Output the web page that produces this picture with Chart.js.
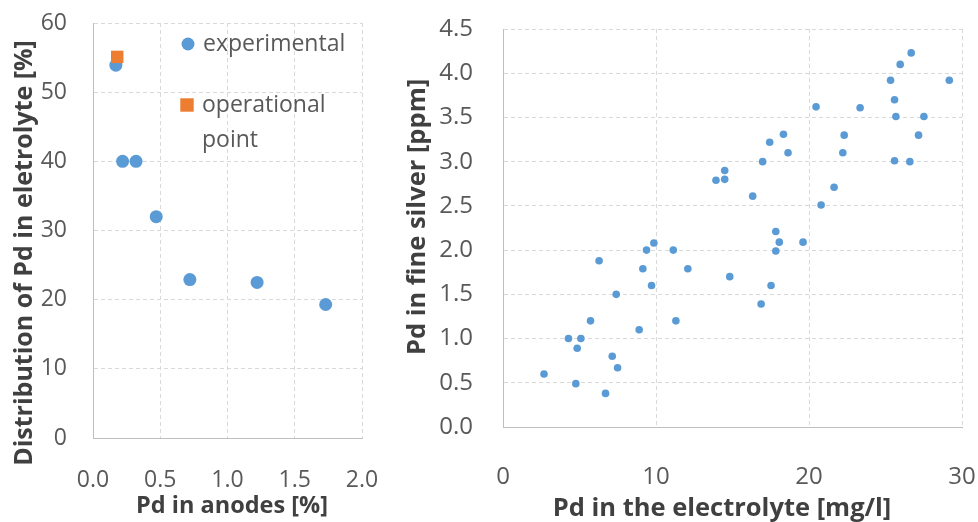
<!DOCTYPE html>
<html>
<head>
<meta charset="utf-8">
<script src="https://cdn.jsdelivr.net/npm/chart.js@4.4.0/dist/chart.umd.min.js"></script>
<style>
    body { margin: 0; background: #fff; }
    .panel { position: absolute; top: 0; height: 522px; }
    #left-panel { left: 0; width: 390px; }
    #right-panel { left: 390px; width: 588px; }
</style>
</head>
<body>
<div class="panel" id="left-panel"><canvas id="anode-chart"></canvas></div>
<div class="panel" id="right-panel"><canvas id="silver-chart"></canvas></div>
<script>
// Pd in anodes vs. share of Pd that ends up in the electrolyte
const anodePd = [0.17, 0.22, 0.32, 0.47, 0.72, 1.22, 1.73];
const electrolyteShare = [53.9, 40.0, 40.0, 32.0, 22.9, 22.5, 19.3];
const operationalAnodePd = [0.18];
const operationalShare = [55.1];

// Pd in the electrolyte vs. Pd in fine silver
const electrolytePd = [
    2.68, 4.28, 5.09, 4.85, 4.76, 5.72, 6.28, 7.40, 7.14, 7.49,
    6.70, 8.90, 9.14, 9.38, 9.86, 9.71, 11.13, 11.30, 12.08, 14.82,
    17.52, 16.87, 17.83, 18.06, 19.61, 17.83, 20.79, 21.64, 16.32, 13.92,
    14.49, 14.49, 16.97, 18.63, 22.21, 25.59, 26.59, 17.43, 18.33, 22.30,
    27.16, 25.68, 27.51, 20.46, 23.34, 25.59, 25.33, 29.17, 25.96, 26.68
];
const fineSilverPd = [
    0.60, 1.00, 1.00, 0.89, 0.49, 1.20, 1.88, 1.50, 0.80, 0.67,
    0.38, 1.10, 1.79, 2.00, 2.08, 1.60, 2.00, 1.20, 1.79, 1.70,
    1.60, 1.39, 2.21, 2.09, 2.09, 1.99, 2.51, 2.71, 2.61, 2.79,
    2.80, 2.90, 3.00, 3.10, 3.10, 3.01, 3.00, 3.22, 3.31, 3.30,
    3.30, 3.51, 3.51, 3.62, 3.61, 3.70, 3.92, 3.92, 4.10, 4.23
];

const BLUE = '#5B9BD5';
const ORANGE = '#ED7D31';
const TICK_COLOR = '#595959';
const TITLE_COLOR = '#404040';

Chart.defaults.font.family = '"Open Sans", sans-serif';
Chart.defaults.animation = false;

function toPoints(xs, ys) {
    return xs.map((x, i) => ({ x: x, y: ys[i] }));
}

// Axis titles drawn at fixed spots around the plot area
const axisTitlePlugin = {
    id: 'axisTitles',
    afterDraw(chart, args, opts) {
        const ctx = chart.ctx;
        ctx.save();
        ctx.fillStyle = TITLE_COLOR;
        ctx.textAlign = 'center';
        ctx.textBaseline = 'middle';
        opts.titles.forEach(t => {
            ctx.save();
            ctx.font = 'bold ' + t.size + 'px "Open Sans", sans-serif';
            ctx.translate(t.x, t.y);
            if (t.vertical) ctx.rotate(-Math.PI / 2);
            ctx.fillText(t.text, 0, 0);
            ctx.restore();
        });
        ctx.restore();
    }
};

// Legend inside the plot, markers taken from the datasets
const insideLegendPlugin = {
    id: 'insideLegend',
    afterDraw(chart, args, opts) {
        if (!opts.items) return;
        const ctx = chart.ctx;
        const area = chart.chartArea;
        ctx.save();
        ctx.font = '23px "Open Sans", sans-serif';
        ctx.textBaseline = 'middle';
        ctx.textAlign = 'left';
        opts.items.forEach(item => {
            const ds = chart.data.datasets[item.dataset];
            const mx = area.left + item.x;
            const my = area.top + item.y;
            ctx.fillStyle = ds.backgroundColor;
            Chart.helpers.drawPoint(ctx, {
                pointStyle: ds.pointStyle,
                radius: item.radius,
                rotation: 0,
                borderWidth: 0
            }, mx, my);
            ctx.fillStyle = TICK_COLOR;
            item.lines.forEach((line, i) => {
                ctx.fillText(line, mx + 15, my + i * 35);
            });
        });
        ctx.restore();
    }
};

function axis(min, max, step, decimals, fontSize, padding, fit) {
    return {
        type: 'linear',
        min: min,
        max: max,
        ticks: {
            stepSize: step,
            padding: padding,
            color: TICK_COLOR,
            font: { size: fontSize },
            callback: v => v.toFixed(decimals)
        },
        grid: { color: '#d9d9d9', lineWidth: 1, drawTicks: false },
        border: { display: true, color: '#bfbfbf', width: 1, dash: [4, 3] },
        afterFit: s => {
            fit(s);
            // plot area is set by layout.padding alone
            s.paddingTop = s.paddingBottom = s.paddingLeft = s.paddingRight = 0;
        }
    };
}

const ctxLeft = document.getElementById('anode-chart').getContext('2d');
new Chart(ctxLeft, {
    type: 'scatter',
    data: {
        datasets: [{
            label: 'experimental',
            data: toPoints(anodePd, electrolyteShare),
            backgroundColor: BLUE,
            borderColor: BLUE,
            borderWidth: 0,
            pointStyle: 'circle',
            pointRadius: 6.5,
            order: 1
        }, {
            label: 'operational point',
            data: toPoints(operationalAnodePd, operationalShare),
            backgroundColor: ORANGE,
            borderColor: ORANGE,
            borderWidth: 0,
            pointStyle: 'rect',
            pointRadius: 8.8,
            order: 0
        }]
    },
    options: {
        responsive: true,
        maintainAspectRatio: false,
        layout: { padding: { top: 23, right: 28, left: 0, bottom: 0 } },
        scales: {
            x: axis(0, 2, 0.5, 1, 23, 29, s => { s.height = 84; }),
            y: axis(0, 60, 10, 0, 23, 26, s => { s.width = 93; })
        },
        plugins: {
            legend: { display: false },
            tooltip: { enabled: false },
            axisTitles: {
                titles: [
                    { text: 'Distribution of Pd in eletrolyte [%]', x: 25, y: 253, size: 25, vertical: true },
                    { text: 'Pd in anodes [%]', x: 232, y: 506, size: 23.5 }
                ]
            },
            insideLegend: {
                items: [
                    { dataset: 0, x: 95, y: 21, radius: 6.5, lines: ['experimental'] },
                    { dataset: 1, x: 94, y: 82, radius: 9.5, lines: ['operational', 'point'] }
                ]
            }
        }
    },
    plugins: [axisTitlePlugin, insideLegendPlugin]
});

const ctxRight = document.getElementById('silver-chart').getContext('2d');
new Chart(ctxRight, {
    type: 'scatter',
    data: {
        datasets: [{
            label: 'Pd in fine silver',
            data: toPoints(electrolytePd, fineSilverPd),
            backgroundColor: BLUE,
            borderColor: BLUE,
            borderWidth: 0,
            pointStyle: 'circle',
            pointRadius: 3.8
        }]
    },
    options: {
        responsive: true,
        maintainAspectRatio: false,
        layout: { padding: { top: 29, right: 16, left: 0, bottom: 0 } },
        scales: {
            x: axis(0, 30, 10, 0, 24, 36, s => { s.height = 95; }),
            y: axis(0, 4.5, 0.5, 1, 24, 30, s => { s.width = 113; })
        },
        plugins: {
            legend: { display: false },
            tooltip: { enabled: false },
            axisTitles: {
                titles: [
                    { text: 'Pd in fine silver [ppm]', x: 28, y: 217, size: 25.5, vertical: true },
                    { text: 'Pd in the electrolyte [mg/l]', x: 332, y: 509, size: 25.5 }
                ]
            }
        }
    },
    plugins: [axisTitlePlugin]
});
</script>
</body>
</html>
